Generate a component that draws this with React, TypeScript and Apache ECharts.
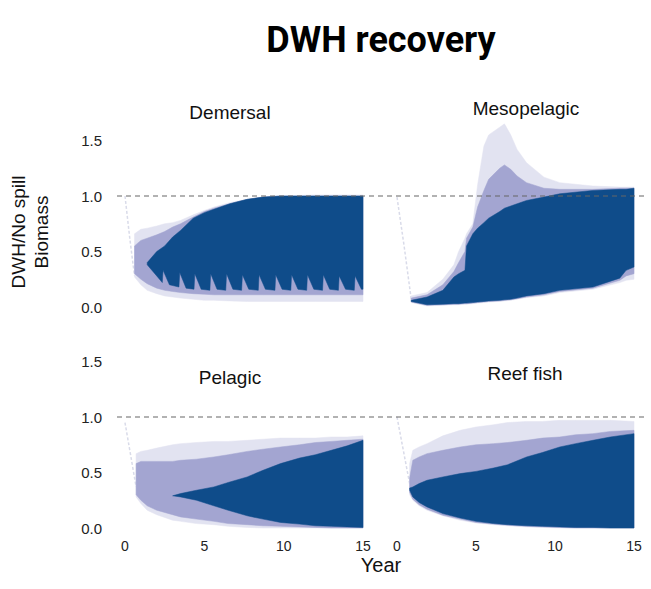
import React, { useEffect, useRef } from "react";
import * as echarts from "echarts";

// ---------- data (years, ratio DWH / No spill biomass) ----------
const xTicks = [0, 5, 10, 15];
const yTicks = [0, 0.5, 1.0, 1.5];
const refLevel = 1.0;
const refSpan = [0, 1];

const panelNames = ["Demersal", "Mesopelagic", "Pelagic", "Reef fish"];

// Demersal
const demYears = [0.6, 1.0, 1.4, 2.0, 2.5, 3.0, 3.5, 4.3, 5.0, 5.6, 6.6, 7.7, 8.7, 9.8, 12, 15];
const demOuterHi = [0.66, 0.7, 0.71, 0.73, 0.75, 0.76, 0.78, 0.83, 0.87, 0.9, 0.94, 0.97, 0.99, 1.0, 1.01, 1.01];
const demMidHi = [0.55, 0.6, 0.62, 0.65, 0.68, 0.72, 0.75, 0.81, 0.86, 0.89, 0.93, 0.97, 0.99, 1.0, 1.0, 1.0];
const demMidLo = [0.3, 0.25, 0.21, 0.17, 0.15, 0.14, 0.13, 0.12, 0.115, 0.11, 0.11, 0.11, 0.11, 0.11, 0.11, 0.11];
const demOuterLo = [0.27, 0.2, 0.15, 0.12, 0.1, 0.09, 0.08, 0.07, 0.06, 0.06, 0.055, 0.05, 0.05, 0.05, 0.05, 0.05];
const demCoreHiYears = [1.4, 2.0, 2.5, 3.0, 3.5, 4.3, 5.0, 5.6, 6.6, 7.7, 8.7, 9.8, 12, 15];
const demCoreHi = [0.4, 0.5, 0.55, 0.63, 0.69, 0.8, 0.85, 0.88, 0.93, 0.97, 0.99, 1.0, 1.0, 1.0];
// lower edge of the dense band, with the yearly spikes
const demCoreLoYears = [1.4, 2.0, 2.35, 2.4, 2.8, 3.4, 3.45, 3.85, 4.35, 4.4, 4.8, 5.35, 5.4, 5.8, 6.35, 6.4, 6.8, 7.35, 7.4, 7.8, 8.4, 8.45, 8.85, 9.45, 9.5, 9.9, 10.45, 10.5, 10.9, 11.45, 11.5, 11.9, 12.45, 12.5, 12.9, 13.45, 13.5, 13.9, 14.45, 14.5, 14.9, 15];
const demCoreLo = [0.38, 0.28, 0.22, 0.33, 0.2, 0.18, 0.31, 0.17, 0.16, 0.3, 0.16, 0.15, 0.3, 0.16, 0.15, 0.3, 0.16, 0.15, 0.29, 0.16, 0.15, 0.29, 0.16, 0.15, 0.29, 0.16, 0.15, 0.29, 0.16, 0.15, 0.29, 0.16, 0.15, 0.29, 0.16, 0.15, 0.28, 0.16, 0.15, 0.28, 0.16, 0.16];
const demTraceX = [0, 0.3, 0.6];
const demTraceY = [1.0, 0.62, 0.28];

// Mesopelagic
const mesYears = [0.9, 1.9, 2.9, 3.6, 3.9, 4.3, 4.4, 4.8, 5.1, 5.5, 5.8, 6.5, 6.8, 7.2, 7.6, 8.2, 9.3, 10.3, 12.4, 14.1, 14.5, 15];
const mesOuterHi = [0.1, 0.13, 0.25, 0.38, 0.5, 0.62, 0.66, 0.75, 1.1, 1.45, 1.55, 1.62, 1.65, 1.55, 1.42, 1.3, 1.17, 1.12, 1.09, 1.08, 1.08, 1.08];
const mesMidHi = [0.08, 0.11, 0.2, 0.32, 0.4, 0.5, 0.62, 0.72, 0.9, 1.05, 1.15, 1.25, 1.28, 1.24, 1.18, 1.12, 1.07, 1.06, 1.06, 1.07, 1.07, 1.07];
const mesCoreHi = [0.06, 0.09, 0.15, 0.27, 0.3, 0.33, 0.55, 0.66, 0.71, 0.76, 0.8, 0.86, 0.89, 0.91, 0.93, 0.96, 0.99, 1.02, 1.05, 1.06, 1.06, 1.07];
const mesCoreLo = [0.05, 0.02, 0.025, 0.03, 0.03, 0.035, 0.035, 0.04, 0.045, 0.05, 0.055, 0.06, 0.065, 0.07, 0.08, 0.1, 0.12, 0.15, 0.18, 0.26, 0.33, 0.36];
const mesMidLo = [0.045, 0.015, 0.02, 0.025, 0.025, 0.03, 0.03, 0.035, 0.04, 0.045, 0.05, 0.055, 0.06, 0.065, 0.075, 0.09, 0.11, 0.14, 0.17, 0.24, 0.28, 0.3];
const mesOuterLo = [0.04, 0.01, 0.015, 0.02, 0.02, 0.025, 0.025, 0.03, 0.035, 0.04, 0.045, 0.05, 0.055, 0.06, 0.07, 0.085, 0.1, 0.13, 0.16, 0.22, 0.24, 0.25];
const mesTraceX = [0, 0.45, 0.9];
const mesTraceY = [0.99, 0.55, 0.07];

// Pelagic
const pelYears = [0.7, 1.0, 1.4, 2.0, 3.0, 3.5, 4.5, 5.6, 6.5, 7.7, 8.7, 9.8, 11.0, 12.0, 13.0, 14.0, 15.0];
const pelOuterHi = [0.67, 0.69, 0.7, 0.72, 0.75, 0.76, 0.77, 0.78, 0.78, 0.79, 0.8, 0.81, 0.81, 0.81, 0.82, 0.82, 0.83];
const pelMidHi = [0.58, 0.6, 0.6, 0.6, 0.6, 0.61, 0.62, 0.64, 0.66, 0.69, 0.71, 0.73, 0.75, 0.77, 0.78, 0.79, 0.8];
const pelMidLo = [0.3, 0.25, 0.2, 0.16, 0.12, 0.1, 0.08, 0.06, 0.04, 0.03, 0.02, 0.015, 0.01, 0.005, 0, 0, 0];
const pelOuterLo = [0.28, 0.22, 0.16, 0.12, 0.07, 0.06, 0.04, 0.03, 0.015, 0.005, 0, 0, 0, 0, 0, 0, 0];
const pelCoreYears = [3.0, 3.5, 4.5, 5.6, 6.5, 7.7, 8.7, 9.8, 11.0, 12.0, 13.0, 14.0, 15.0];
const pelCoreHi = [0.29, 0.31, 0.34, 0.37, 0.41, 0.46, 0.52, 0.58, 0.63, 0.66, 0.7, 0.74, 0.79];
const pelCoreLo = [0.29, 0.28, 0.25, 0.2, 0.16, 0.11, 0.08, 0.05, 0.035, 0.02, 0.015, 0.01, 0.005];
const pelTraceX = [0, 0.35, 0.7];
const pelTraceY = [0.95, 0.66, 0.37];

// Reef fish
const reefYears = [0.8, 1.0, 1.4, 1.9, 2.9, 4.0, 5.0, 6.1, 7.0, 8.2, 9.2, 10.3, 11.3, 12.4, 13.5, 15];
const reefOuterHi = [0.58, 0.7, 0.73, 0.76, 0.83, 0.88, 0.91, 0.93, 0.95, 0.96, 0.96, 0.97, 0.97, 0.97, 0.97, 0.96];
const reefMidHi = [0.45, 0.61, 0.64, 0.67, 0.7, 0.73, 0.75, 0.76, 0.77, 0.79, 0.81, 0.82, 0.84, 0.85, 0.87, 0.88];
const reefCoreHi = [0.36, 0.37, 0.4, 0.43, 0.46, 0.49, 0.51, 0.54, 0.57, 0.64, 0.68, 0.73, 0.76, 0.79, 0.82, 0.85];
const reefCoreLo = [0.34, 0.28, 0.23, 0.19, 0.13, 0.09, 0.06, 0.04, 0.03, 0.02, 0.015, 0.01, 0.005, 0.005, 0, 0];
const reefMidLo = [0.32, 0.26, 0.21, 0.17, 0.115, 0.08, 0.05, 0.035, 0.025, 0.015, 0.01, 0.005, 0, 0, 0, 0];
const reefOuterLo = [0.3, 0.25, 0.2, 0.16, 0.11, 0.07, 0.045, 0.03, 0.02, 0.01, 0.005, 0, 0, 0, 0, 0];
const reefTraceX = [0, 0.4, 0.8];
const reefTraceY = [1.0, 0.7, 0.4];

// ---------- styling ----------
const CORE = "#0f4c8a";
const MID = "#a3a5d1";
const OUTER = "#e2e3f1";
const TRACE = "#d9dbe9";
const FONT = "'Liberation Sans', Arial, sans-serif";

type Edge = { x: number[]; y: number[] };

function band(idx: number, hi: Edge, lo: Edge, color: string, z: number) {
  const hiPts = hi.x.map((x, i) => [x, hi.y[i]]);
  const loPts = lo.x.map((x, i) => [x, lo.y[i]]);
  return {
    type: "custom",
    xAxisIndex: idx,
    yAxisIndex: idx,
    clip: false,
    silent: true,
    z,
    data: hiPts.concat(loPts),
    encode: { x: 0, y: 1 },
    renderItem: (params: any, api: any) => {
      if (params.dataIndex !== 0) return null;
      const top = hiPts.map((p) => api.coord(p));
      const bot = loPts.map((p) => api.coord(p)).reverse();
      return {
        type: "polygon",
        shape: { points: top.concat(bot) },
        style: { fill: color, stroke: color, lineWidth: 0.5 },
      };
    },
  };
}

function trace(idx: number, xs: number[], ys: number[]) {
  return {
    type: "line",
    xAxisIndex: idx,
    yAxisIndex: idx,
    symbol: "none",
    silent: true,
    z: 1,
    lineStyle: { color: TRACE, width: 1.5, type: [3, 2] },
    data: xs.map((x, i) => [x, ys[i]]),
  };
}

const e = (x: number[], y: number[]): Edge => ({ x, y });

const panels = [
  {
    outer: [e(demYears, demOuterHi), e(demYears, demOuterLo)],
    mid: [e(demYears, demMidHi), e(demYears, demMidLo)],
    core: [e(demCoreHiYears, demCoreHi), e(demCoreLoYears, demCoreLo)],
    tx: demTraceX,
    ty: demTraceY,
  },
  {
    outer: [e(mesYears, mesOuterHi), e(mesYears, mesOuterLo)],
    mid: [e(mesYears, mesMidHi), e(mesYears, mesMidLo)],
    core: [e(mesYears, mesCoreHi), e(mesYears, mesCoreLo)],
    tx: mesTraceX,
    ty: mesTraceY,
  },
  {
    outer: [e(pelYears, pelOuterHi), e(pelYears, pelOuterLo)],
    mid: [e(pelYears, pelMidHi), e(pelYears, pelMidLo)],
    core: [e(pelCoreYears, pelCoreHi), e(pelCoreYears, pelCoreLo)],
    tx: pelTraceX,
    ty: pelTraceY,
  },
  {
    outer: [e(reefYears, reefOuterHi), e(reefYears, reefOuterLo)],
    mid: [e(reefYears, reefMidHi), e(reefYears, reefMidLo)],
    core: [e(reefYears, reefCoreHi), e(reefYears, reefCoreLo)],
    tx: reefTraceX,
    ty: reefTraceY,
  },
];

export default function App() {
  const ref = useRef<HTMLDivElement>(null);
  useEffect(() => {
    if (!ref.current) return;
    const chart = echarts.init(ref.current, null, { renderer: "svg" });
    const unit = 111;
    const h = 1.5 * unit;
    const topZero = 307;
    const botZero = 528;
    const grids = [
      { left: 125, top: topZero - h, width: 238, height: h },
      { left: 397, top: topZero - h, width: 237, height: h },
      { left: 125, top: botZero - h, width: 238, height: h },
      { left: 397, top: botZero - h, width: 237, height: h },
      { left: 117, top: topZero - h, width: 528, height: h },
      { left: 117, top: botZero - h, width: 528, height: h },
    ];
    const xAxis = grids.map((_, i) => ({
      type: "value",
      gridIndex: i,
      min: i < 4 ? xTicks[0] : refSpan[0],
      max: i < 4 ? xTicks[xTicks.length - 1] : refSpan[1],
      interval: i < 4 ? 5 : 1,
      show: i === 2 || i === 3,
      axisLine: { show: false },
      axisTick: { show: false },
      splitLine: { show: false },
      axisLabel: { fontSize: 14, color: "#222", fontFamily: FONT, margin: 11 },
    }));
    const yAxis = grids.map((_, i) => ({
      type: "value",
      gridIndex: i,
      min: yTicks[0],
      max: yTicks[yTicks.length - 1],
      interval: 0.5,
      show: i === 0 || i === 2,
      axisLine: { show: false },
      axisTick: { show: false },
      splitLine: { show: false },
      axisLabel: {
        fontSize: 15,
        color: "#222",
        fontFamily: FONT,
        margin: 23,
        padding: [6, 0, 0, 0],
        formatter: (v: number) => v.toFixed(1),
      },
    }));
    const series: any[] = [];
    panels.forEach((p, i) => {
      series.push(trace(i, p.tx, p.ty));
      series.push(band(i, p.outer[0], p.outer[1], OUTER, 2));
      series.push(band(i, p.mid[0], p.mid[1], MID, 3));
      series.push(band(i, p.core[0], p.core[1], CORE, 4));
    });
    [4, 5].forEach((g) => {
      series.push({
        type: "line",
        xAxisIndex: g,
        yAxisIndex: g,
        symbol: "none",
        silent: true,
        z: 10,
        lineStyle: { color: "#666", width: 1.2, type: [5, 4] },
        data: refSpan.map((x) => [x, refLevel]),
      });
    });
    const titlePos = [
      [230, 112],
      [526, 108],
      [230, 377],
      [525, 373],
    ];
    const graphic: any[] = [
      {
        type: "text",
        x: 381,
        y: 40,
        style: {
          text: "DWH recovery",
          fontSize: 36,
          fontWeight: "bold",
          fontFamily: "Roboto, 'Liberation Sans', sans-serif",
          fill: "#000",
          align: "center",
          verticalAlign: "middle",
        },
      },
      ...panelNames.map((name, i) => ({
        type: "text",
        x: titlePos[i][0],
        y: titlePos[i][1],
        style: {
          text: name,
          fontSize: 19,
          fontFamily: FONT,
          fill: "#111",
          align: "center",
          verticalAlign: "middle",
        },
      })),
      {
        type: "text",
        x: 30,
        y: 232,
        rotation: Math.PI / 2,
        style: {
          text: "DWH/No spill\nBiomass",
          fontSize: 19,
          lineHeight: 23,
          fontFamily: FONT,
          fill: "#111",
          align: "center",
          verticalAlign: "middle",
        },
      },
      {
        type: "text",
        x: 381,
        y: 565,
        style: {
          text: "Year",
          fontSize: 20,
          fontFamily: FONT,
          fill: "#111",
          align: "center",
          verticalAlign: "middle",
        },
      },
    ];
    chart.setOption({
      animation: false,
      backgroundColor: "#fff",
      grid: grids,
      xAxis,
      yAxis,
      series,
      graphic,
    });
    return () => chart.dispose();
  }, []);
  return (
    <div
      ref={ref}
      style={{ position: "absolute", left: 0, top: 0, width: 651, height: 589 }}
    />
  );
}
